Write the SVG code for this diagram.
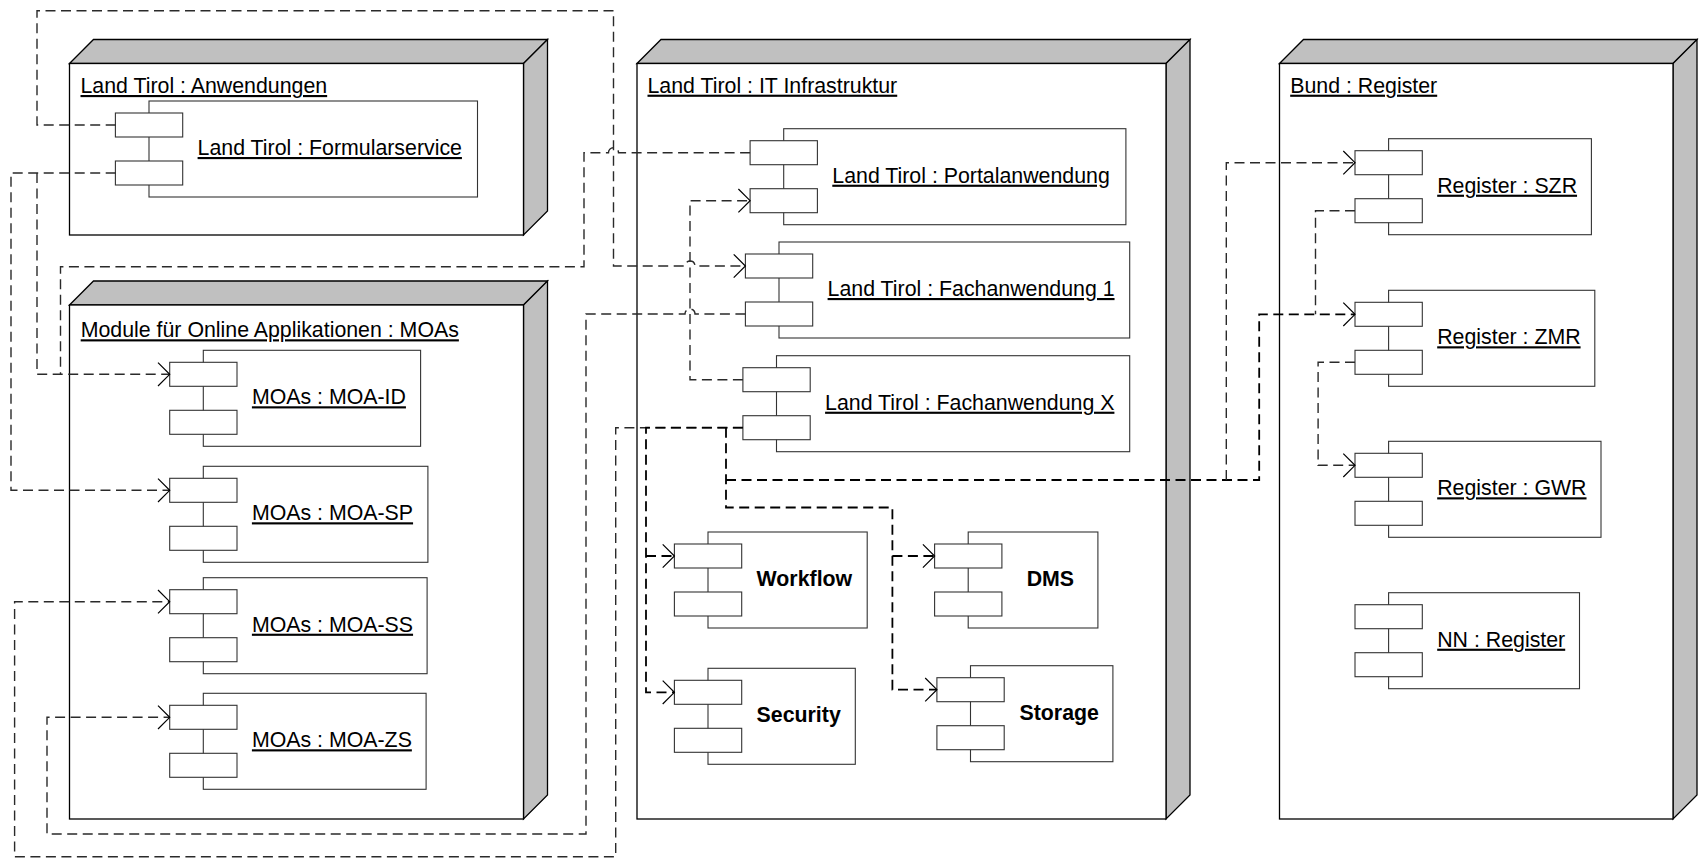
<svg xmlns="http://www.w3.org/2000/svg" width="1700" height="858" viewBox="0 0 1700 858">
<style>
  .bg{fill:#fff}
  .front{fill:#fff;stroke:#000;stroke-width:1.3}
  .side{fill:#c0c0c0;stroke:#000;stroke-width:1.3;stroke-linejoin:miter}
  .body{fill:#fff;stroke:#333;stroke-width:1.1}
  .port{fill:#fff;stroke:#333;stroke-width:1.1}
  .lbl{font-family:"Liberation Sans",Arial,sans-serif;font-size:21.33px;fill:#000;text-decoration:underline}
  .blbl{font-family:"Liberation Sans",Arial,sans-serif;font-size:21.33px;font-weight:bold;fill:#000}
  .dep{fill:none;stroke:#2a2a2a;stroke-width:1.4;stroke-dasharray:10 5.5}
  .depb{fill:none;stroke:#000;stroke-width:1.8;stroke-dasharray:10 5.5}
</style>
<defs>
  <marker id="arr" markerUnits="userSpaceOnUse" markerWidth="30" markerHeight="30" refX="14" refY="14" orient="auto" overflow="visible">
    <path d="M2.3,2.3 L14,14 L2.3,25.7" fill="none" stroke="#000" stroke-width="1.2" stroke-dasharray="none"/>
  </marker>
</defs>
<rect class="bg" x="0" y="0" width="1700" height="858"/>

<!-- Nodes -->
<g id="node-anwendungen">
  <polygon class="side" points="69.5,63.5 93.5,39.5 547.5,39.5 523.5,63.5"/>
  <polygon class="side" points="523.5,63.5 547.5,39.5 547.5,211 523.5,235"/>
  <rect class="front" x="69.5" y="63.5" width="454" height="171.5"/>
  <text class="lbl" x="80.5" y="93">Land Tirol : Anwendungen</text>
</g>
<g id="node-moas">
  <polygon class="side" points="69.5,305 93.5,281 547.5,281 523.5,305"/>
  <polygon class="side" points="523.5,305 547.5,281 547.5,795 523.5,819"/>
  <rect class="front" x="69.5" y="305" width="454" height="514"/>
  <text class="lbl" x="80.7" y="337.3">Module für Online Applikationen : MOAs</text>
</g>
<g id="node-it">
  <polygon class="side" points="637,63.5 661,39.5 1190,39.5 1166,63.5"/>
  <polygon class="side" points="1166,63.5 1190,39.5 1190,795 1166,819"/>
  <rect class="front" x="637" y="63.5" width="529" height="755.5"/>
  <text class="lbl" x="647.5" y="92.7">Land Tirol : IT Infrastruktur</text>
</g>
<g id="node-bund">
  <polygon class="side" points="1279.5,63.5 1303.5,39.5 1697,39.5 1673,63.5"/>
  <polygon class="side" points="1673,63.5 1697,39.5 1697,795 1673,819"/>
  <rect class="front" x="1279.5" y="63.5" width="393.5" height="755.5"/>
  <text class="lbl" x="1290.2" y="92.7">Bund : Register</text>
</g>

<!-- Components -->
<g id="comp-formularservice" transform="translate(149,101)">
  <rect class="body" x="0" y="0" width="328.5" height="96"/>
  <rect class="port" x="-33.6" y="12" width="67.3" height="24"/>
  <rect class="port" x="-33.6" y="60" width="67.3" height="24"/>
  <text class="lbl" x="48.6" y="54">Land Tirol : Formularservice</text>
</g>
<g id="comp-portal" transform="translate(783.7,128.7)">
  <rect class="body" x="0" y="0" width="342.2" height="96"/>
  <rect class="port" x="-33.6" y="12" width="67.3" height="24"/>
  <rect class="port" x="-33.6" y="60" width="67.3" height="24"/>
  <text class="lbl" x="48.6" y="54">Land Tirol : Portalanwendung</text>
</g>
<g id="comp-fach1" transform="translate(779,242)">
  <rect class="body" x="0" y="0" width="350.7" height="96"/>
  <rect class="port" x="-33.6" y="12" width="67.3" height="24"/>
  <rect class="port" x="-33.6" y="60" width="67.3" height="24"/>
  <text class="lbl" x="48.6" y="54">Land Tirol : Fachanwendung 1</text>
</g>
<g id="comp-fachx" transform="translate(776.5,355.7)">
  <rect class="body" x="0" y="0" width="353.2" height="96"/>
  <rect class="port" x="-33.6" y="12" width="67.3" height="24"/>
  <rect class="port" x="-33.6" y="60" width="67.3" height="24"/>
  <text class="lbl" x="48.6" y="54">Land Tirol : Fachanwendung X</text>
</g>
<g id="comp-workflow" transform="translate(708,532)">
  <rect class="body" x="0" y="0" width="159.2" height="96"/>
  <rect class="port" x="-33.6" y="12" width="67.3" height="24"/>
  <rect class="port" x="-33.6" y="60" width="67.3" height="24"/>
  <text class="blbl" x="48.6" y="54">Workflow</text>
</g>
<g id="comp-dms" transform="translate(968.2,532)">
  <rect class="body" x="0" y="0" width="129.7" height="96"/>
  <rect class="port" x="-33.6" y="12" width="67.3" height="24"/>
  <rect class="port" x="-33.6" y="60" width="67.3" height="24"/>
  <text class="blbl" x="58.5" y="54">DMS</text>
</g>
<g id="comp-security" transform="translate(708,668.3)">
  <rect class="body" x="0" y="0" width="147.3" height="96"/>
  <rect class="port" x="-33.6" y="12" width="67.3" height="24"/>
  <rect class="port" x="-33.6" y="60" width="67.3" height="24"/>
  <text class="blbl" x="48.6" y="54">Security</text>
</g>
<g id="comp-storage" transform="translate(970.5,665.7)">
  <rect class="body" x="0" y="0" width="142.4" height="96"/>
  <rect class="port" x="-33.6" y="12" width="67.3" height="24"/>
  <rect class="port" x="-33.6" y="60" width="67.3" height="24"/>
  <text class="blbl" x="49" y="54">Storage</text>
</g>
<g id="comp-moa-id" transform="translate(203.3,350.3)">
  <rect class="body" x="0" y="0" width="217.3" height="96"/>
  <rect class="port" x="-33.6" y="12" width="67.3" height="24"/>
  <rect class="port" x="-33.6" y="60" width="67.3" height="24"/>
  <text class="lbl" x="48.6" y="54">MOAs : MOA-ID</text>
</g>
<g id="comp-moa-sp" transform="translate(203.3,466.3)">
  <rect class="body" x="0" y="0" width="224.6" height="96"/>
  <rect class="port" x="-33.6" y="12" width="67.3" height="24"/>
  <rect class="port" x="-33.6" y="60" width="67.3" height="24"/>
  <text class="lbl" x="48.6" y="54">MOAs : MOA-SP</text>
</g>
<g id="comp-moa-ss" transform="translate(203.3,577.7)">
  <rect class="body" x="0" y="0" width="223.8" height="96"/>
  <rect class="port" x="-33.6" y="12" width="67.3" height="24"/>
  <rect class="port" x="-33.6" y="60" width="67.3" height="24"/>
  <text class="lbl" x="48.6" y="54">MOAs : MOA-SS</text>
</g>
<g id="comp-moa-zs" transform="translate(203.3,693.3)">
  <rect class="body" x="0" y="0" width="222.8" height="96"/>
  <rect class="port" x="-33.6" y="12" width="67.3" height="24"/>
  <rect class="port" x="-33.6" y="60" width="67.3" height="24"/>
  <text class="lbl" x="48.6" y="54">MOAs : MOA-ZS</text>
</g>
<g id="comp-szr" transform="translate(1388.6,138.7)">
  <rect class="body" x="0" y="0" width="202.8" height="96"/>
  <rect class="port" x="-33.6" y="12" width="67.3" height="24"/>
  <rect class="port" x="-33.6" y="60" width="67.3" height="24"/>
  <text class="lbl" x="48.6" y="54">Register : SZR</text>
</g>
<g id="comp-zmr" transform="translate(1388.6,290.3)">
  <rect class="body" x="0" y="0" width="206.2" height="96"/>
  <rect class="port" x="-33.6" y="12" width="67.3" height="24"/>
  <rect class="port" x="-33.6" y="60" width="67.3" height="24"/>
  <text class="lbl" x="48.6" y="54">Register : ZMR</text>
</g>
<g id="comp-gwr" transform="translate(1388.6,441.3)">
  <rect class="body" x="0" y="0" width="212.4" height="96"/>
  <rect class="port" x="-33.6" y="12" width="67.3" height="24"/>
  <rect class="port" x="-33.6" y="60" width="67.3" height="24"/>
  <text class="lbl" x="48.6" y="54">Register : GWR</text>
</g>
<g id="comp-nn" transform="translate(1388.6,592.7)">
  <rect class="body" x="0" y="0" width="190.9" height="96"/>
  <rect class="port" x="-33.6" y="12" width="67.3" height="24"/>
  <rect class="port" x="-33.6" y="60" width="67.3" height="24"/>
  <text class="lbl" x="48.6" y="54">NN : Register</text>
</g>

<!-- Connectors -->
<g id="connectors">
  <!-- Formularservice -> Fachanwendung 1 -->
  <path class="dep" d="M115.7,125 H37 V10.7 H613.5 V266 H685 A5,5 0 0 1 695,266 H745.4" marker-end="url(#arr)"/>
  <!-- Formularservice -> MOA-SP -->
  <path class="dep" d="M115.7,173 H11 V490.3 H169.7" marker-end="url(#arr)"/>
  <!-- Formularservice -> MOA-ID -->
  <path class="dep" d="M37,173 V374.3 H169.7" marker-end="url(#arr)"/>
  <!-- Portalanwendung -> MOA-ID -->
  <path class="dep" d="M750.1,152.7 H618.5 A5,5 0 0 0 608.5,152.7 H584 V266.7 H60.5 V374.3"/>
  <!-- Fachanwendung 1 -> MOA-ZS -->
  <path class="dep" d="M745.4,314 H695 A5,5 0 0 0 685,314 H586 V834 H47 V717.3 H169.7" marker-end="url(#arr)"/>
  <!-- Fachanwendung X (port 1) -> Portalanwendung -->
  <path class="dep" d="M742.9,379.7 H690 V200.7 H750.1" marker-end="url(#arr)"/>
  <!-- Fachanwendung X -> MOA-SS -->
  <path class="dep" d="M742.9,427.7 H615.7 V856.7 H14.6 V601.7 H169.7" marker-end="url(#arr)"/>
  <!-- Fachanwendung X -> Workflow / Security -->
  <path class="depb" d="M742.9,427.7 H646 V692.3 H674.4" marker-end="url(#arr)"/>
  <path class="depb" d="M646,556 H674.4" marker-end="url(#arr)"/>
  <!-- Fachanwendung X -> DMS / Storage -->
  <path class="depb" d="M726,427.7 V507.5 H892.4 V689.7 H936.9" marker-end="url(#arr)"/>
  <path class="depb" d="M892.4,556 H934.6" marker-end="url(#arr)"/>
  <!-- Fachanwendung X -> ZMR / SZR -->
  <path class="depb" d="M726,480 H1259.2 V314.3 H1355" marker-end="url(#arr)"/>
  <path class="dep" d="M1226.3,480 V162.7 H1355" marker-end="url(#arr)"/>
  <!-- SZR -> ZMR -->
  <path class="dep" d="M1355,210.7 H1315.5 V314.3"/>
  <!-- ZMR -> GWR -->
  <path class="dep" d="M1355,362.3 H1318.1 V465.3 H1355" marker-end="url(#arr)"/>
</g>
</svg>
